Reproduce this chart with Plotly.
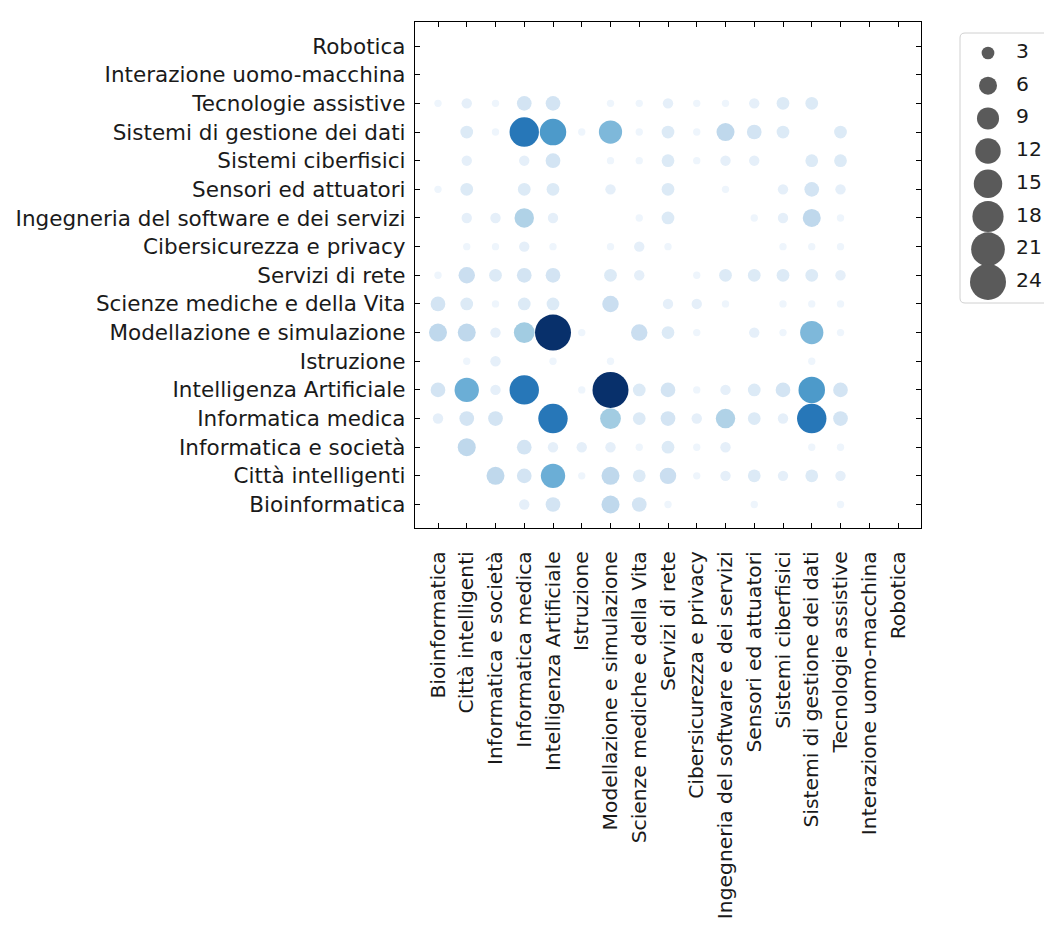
import numpy as np
import plotly.graph_objects as go

categories = ["Bioinformatica", "Città intelligenti", "Informatica e società", "Informatica medica",
              "Intelligenza Artificiale", "Istruzione", "Modellazione e simulazione",
              "Scienze mediche e della Vita", "Servizi di rete", "Cibersicurezza e privacy",
              "Ingegneria del software e dei servizi", "Sensori ed attuatori", "Sistemi ciberfisici",
              "Sistemi di gestione dei dati", "Tecnologie assistive", "Interazione uomo-macchina",
              "Robotica"]

# upper-triangle co-occurrence counts (matrix is symmetric)
pair_a = [0, 0, 0, 0, 0, 0, 0,
          1, 1, 1, 1, 1, 1, 1, 1, 1, 1, 1, 1, 1,
          2, 2, 2, 2, 2, 2, 2, 2, 2, 2,
          3, 3, 3, 3, 3, 3, 3, 3, 3, 3,
          4, 4, 4, 4, 4, 4, 4, 4, 4, 4,
          5, 5,
          6, 6, 6, 6, 6, 6, 6,
          7, 7, 7, 7, 7, 7,
          8, 8, 8, 8, 8, 8,
          9, 9, 9,
          10, 10, 10, 10,
          11, 11, 11,
          12, 12,
          13]
pair_b = [3, 4, 6, 7, 8, 11, 14,
          2, 3, 4, 5, 6, 7, 8, 9, 10, 11, 12, 13, 14,
          3, 4, 5, 6, 7, 8, 9, 10, 13, 14,
          4, 6, 7, 8, 9, 10, 11, 12, 13, 14,
          5, 6, 7, 8, 9, 10, 11, 12, 13, 14,
          6, 13,
          7, 8, 9, 11, 12, 13, 14,
          8, 9, 10, 12, 13, 14,
          9, 10, 11, 12, 13, 14,
          12, 13, 14,
          11, 12, 13, 14,
          12, 13, 14,
          13, 14,
          14]
pair_count = [2, 4, 6, 4, 1, 1, 1,
              6, 4, 11, 1, 6, 3, 5, 1, 2, 3, 2, 3, 2,
              4, 2, 2, 2, 1, 3, 1, 2, 1, 1,
              16, 8, 3, 4, 2, 7, 3, 2, 16, 4,
              1, 24, 3, 4, 1, 2, 3, 4, 13, 4,
              1, 1,
              5, 3, 1, 2, 1, 10, 1,
              2, 2, 1, 1, 1, 1,
              1, 3, 3, 3, 3, 2,
              1, 1, 1,
              1, 2, 6, 1,
              2, 4, 2,
              3, 3,
              3]

legend_values = [3, 6, 9, 12, 15, 18, 21, 24]

# ---- build symmetric point list ----
xs, ys, vs = [], [], []
for a, b, c in zip(pair_a, pair_b, pair_count):
    for r, col in ((a, b), (b, a)):
        xs.append(categories[col])
        ys.append(categories[r])
        vs.append(c)
vs = np.array(vs, dtype=float)

K = 7.35  # diameter (px) per sqrt(count)
blues = [[0.0, "#f7fbff"], [0.125, "#deebf7"], [0.25, "#c6dbef"], [0.375, "#9ecae1"],
         [0.5, "#6baed6"], [0.625, "#4292c6"], [0.75, "#2171b5"], [0.875, "#08519c"],
         [1.0, "#08306b"]]

# page body has an 8px margin on every side: keep the figure inside the window
OFF = 8
W, H = 1052 - 2 * OFF, 933 - 2 * OFF
L, R, T, B = 415 - OFF, 921 - OFF, 22 - OFF, 528 - OFF
FONT = "DejaVu Sans"
FS = 21.5
FSX = 20.3

fig = go.Figure()
fig.add_trace(go.Scatter(
    x=xs, y=ys, mode="markers",
    marker=dict(size=K * np.sqrt(vs), color=vs, colorscale=blues, cmin=0, cmax=22,
                line=dict(width=0), opacity=1.0),
    showlegend=False, hoverinfo="x+y+text", text=[str(int(v)) for v in vs],
))

# ---- manual size legend in pixel-space axes ----
lx0, lx1, ly0, ly1 = 956 - OFF, W, 24 - OFF, 312 - OFF
leg_y0, leg_dy = 53 - OFF, 32.7
leg_y = [leg_y0 + i * leg_dy for i in range(len(legend_values))]
fig.add_trace(go.Scatter(
    x=[988 - OFF] * len(legend_values), y=leg_y, mode="markers",
    marker=dict(size=[K * np.sqrt(v) for v in legend_values], color="#5a5a5a",
                opacity=1.0, line=dict(width=0)),
    xaxis="x2", yaxis="y2", showlegend=False, hoverinfo="skip", cliponaxis=False,
))
fig.add_trace(go.Scatter(
    x=[1016 - OFF] * len(legend_values), y=leg_y, mode="text",
    text=[str(v) for v in legend_values], textposition="middle right",
    textfont=dict(family=FONT, size=FSX, color="#1a1a1a"),
    xaxis="x2", yaxis="y2", showlegend=False, hoverinfo="skip", cliponaxis=False,
))

# rounded legend frame (paper coords)
def px(x):
    return x / W

def py(y):
    return 1 - y / H

bx0, by0, bx1, by1, rr = 960 - OFF, 33 - OFF, 1070 - OFF, 303 - OFF, 5
path = (f"M {px(bx0+rr)},{py(by0)} L {px(bx1-rr)},{py(by0)} Q {px(bx1)},{py(by0)} {px(bx1)},{py(by0+rr)} "
        f"L {px(bx1)},{py(by1-rr)} Q {px(bx1)},{py(by1)} {px(bx1-rr)},{py(by1)} "
        f"L {px(bx0+rr)},{py(by1)} Q {px(bx0)},{py(by1)} {px(bx0)},{py(by1-rr)} "
        f"L {px(bx0)},{py(by0+rr)} Q {px(bx0)},{py(by0)} {px(bx0+rr)},{py(by0)} Z")

fig.update_layout(
    width=W, height=H, margin=dict(l=0, r=0, t=0, b=0, autoexpand=False),
    paper_bgcolor="white", plot_bgcolor="rgba(0,0,0,0)",
    font=dict(family=FONT, size=FS, color="#1a1a1a"),
    shapes=[dict(type="path", path=path, xref="paper", yref="paper",
                 line=dict(color="#d0d0d0", width=1), fillcolor="rgba(255,255,255,0.8)",
                 layer="below")],
    xaxis=dict(domain=[L / W, R / W], type="category", categoryorder="array",
               categoryarray=categories, range=[-0.8, 16.8], tickangle=-90,
               showline=True, linecolor="black", linewidth=1.3, mirror="allticks",
               ticks="inside", ticklen=5, tickwidth=1, tickcolor="black",
               showgrid=False, zeroline=False, ticklabelstandoff=14, automargin=False,
               tickfont=dict(family=FONT, size=FSX, color="#1a1a1a")),
    yaxis=dict(domain=[1 - B / H, 1 - T / H], type="category", categoryorder="array",
               categoryarray=categories, range=[-0.82, 16.84],
               showline=True, linecolor="black", linewidth=1.3, mirror="allticks",
               ticks="inside", ticklen=5, tickwidth=1, tickcolor="black",
               showgrid=False, zeroline=False, ticklabelstandoff=4, automargin=False,
               tickfont=dict(family=FONT, size=FS, color="#1a1a1a")),
    xaxis2=dict(domain=[lx0 / W, lx1 / W], range=[lx0, lx1], visible=False, anchor="y2",
                automargin=False),
    yaxis2=dict(domain=[1 - ly1 / H, 1 - ly0 / H], range=[ly1, ly0], visible=False, anchor="x2",
                automargin=False),
)

fig.write_html("out.html")
